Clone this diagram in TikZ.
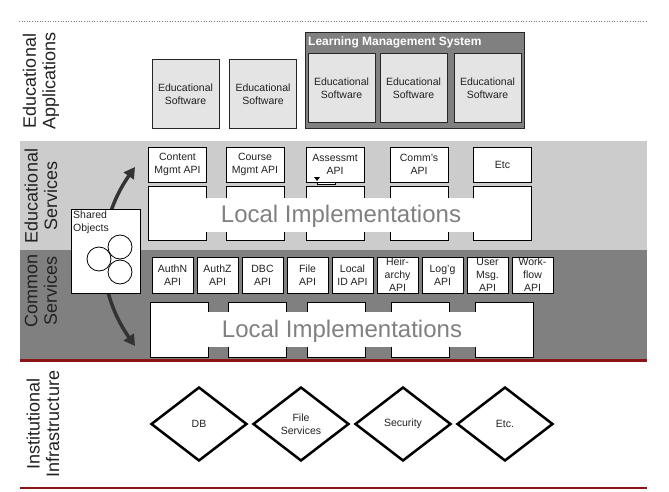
\documentclass[tikz,border=0pt]{standalone}
\usepackage{fontspec}
\setmainfont{Liberation Sans}
\usetikzlibrary{shapes.geometric,arrows.meta}
\definecolor{lightband}{HTML}{CCCCCC}
\definecolor{darkband}{HTML}{808080}
\definecolor{rule}{HTML}{8B1414}
\definecolor{boxgray}{HTML}{E4E4E4}
\definecolor{ink}{HTML}{222222}
\begin{document}
\begin{tikzpicture}[x=1pt,y=-1pt,
  lbl/.style={rotate=90,align=center,font=\fontsize{18}{19.5}\selectfont,text=ink},
  soft/.style={rectangle,draw=black!85,line width=1pt,fill=boxgray,align=center,minimum width=67pt,minimum height=69pt,inner sep=0pt,font=\fontsize{10.5}{13}\selectfont,text=ink},
  api/.style={rectangle,draw,line width=0.8pt,fill=white,align=center,inner sep=0pt,font=\fontsize{10.5}{13}\selectfont,text=ink},
  eapi/.style={api,minimum width=58pt,minimum height=35pt},
  capi/.style={api,minimum width=41pt,minimum height=36pt},
  impl/.style={rectangle,draw,line width=0.8pt,fill=white,minimum width=58pt,inner sep=0pt},
  impltext/.style={anchor=base,text=darkband,font=\fontsize{24}{24}\selectfont},
  store/.style={diamond,draw,line width=2.5pt,minimum width=96pt,minimum height=74pt,inner sep=0pt,align=center,font=\fontsize{10.5}{13}\selectfont,text=ink}]
  \useasboundingbox (0,0) rectangle (669,492);
  \fill[lightband] (20,141) rectangle (647,250);
  \fill[darkband] (20,250) rectangle (647,359);
  \draw[gray,dotted,line width=0.6pt] (19,21)--(647,21);
  \draw[rule,line width=2.7pt] (20,360.3)--(647,360.3);
  \draw[rule,line width=2.7pt] (20,488)--(647,488);

  \node[lbl] (apps) at (41,81) {Educational\\Applications};
  \node[lbl] (eserv) at (41,196) {Educational\\Services};
  \node[lbl] (cserv) at (41,291) {Common\\Services};
  \node[lbl] (infra) at (43,424) {Institutional\\Infrastructure};

  \node[soft] (sw1) at (185.5,94.5) {Educational\\Software};
  \node[soft] (sw2) at (263,94.5) {Educational\\Software};
  \node[rectangle,draw=black!85,line width=1pt,fill=darkband,minimum width=219pt,minimum height=96pt] (lms) at (414.5,81) {};
  \node[anchor=west,inner sep=0pt,text=white,font=\bfseries\fontsize{12}{12}\selectfont] (lmstitle) at (308,42) {Learning Management System};
  \node[soft] (sw3) at (341.5,88.5) {Educational\\Software};
  \node[soft] (sw4) at (413.5,88.5) {Educational\\Software};
  \node[soft] (sw5) at (487.5,88.5) {Educational\\Software};

  \node[eapi] (content) at (177.5,164.5) {Content\\Mgmt API};
  \node[eapi] (course) at (255,164.5) {Course\\Mgmt API};
  \node[eapi] (assess) at (335,164.5) {Assessmt\\API};
  \node[eapi] (comms) at (419,164.5) {Comm's\\API};
  \node[eapi] (eetc) at (502.5,164.5) {Etc};
  \node[impl,minimum height=54pt] (eimpl1) at (177.5,213) {};
  \node[impl,minimum height=54pt] (eimpl2) at (255,213) {};
  \node[impl,minimum height=54pt] (eimpl3) at (335,213) {};
  \node[impl,minimum height=54pt] (eimpl4) at (419,213) {};
  \node[impl,minimum height=54pt] (eimpl5) at (502.5,213) {};
  \fill[white] (149,198) rectangle (531,232);
  \node[impltext] (etext) at (341,222) {Local Implementations};
  \fill[black] (314,177)--(320,177)--(317,181)--cycle;
  \draw[line width=0.5pt,fill=white] (317,182) rectangle (335,184.5);

  \node[capi] (authn) at (172.5,275) {AuthN\\API};
  \node[capi] (authz) at (217.5,275) {AuthZ\\API};
  \node[capi] (dbc) at (262.5,275) {DBC\\API};
  \node[capi] (fileapi) at (307.5,275) {File\\API};
  \node[capi] (localid) at (352.5,275) {Local\\ID API};
  \node[capi] (hier) at (397.5,275) {Heir-\\archy\\API};
  \node[capi] (logg) at (442.5,275) {Log'g\\API};
  \node[capi] (usermsg) at (487.5,275) {User\\Msg.\\API};
  \node[capi] (workflow) at (532.5,275) {Work-\\flow\\API};
  \node[impl,minimum height=55pt] (cimpl1) at (179,329.5) {};
  \node[impl,minimum height=55pt] (cimpl2) at (257,329.5) {};
  \node[impl,minimum height=55pt] (cimpl3) at (336.5,329.5) {};
  \node[impl,minimum height=55pt] (cimpl4) at (420.5,329.5) {};
  \node[impl,minimum height=55pt] (cimpl5) at (504.5,329.5) {};
  \fill[white] (151,312) rectangle (533,347);
  \node[impltext] (ctext) at (342,337) {Local Implementations};

  \coordinate (uptip) at (135,167);
  \coordinate (lowtip) at (135,346);
  \draw[line width=3.5pt,black!80,{Triangle[length=11pt,width=12pt]}-{Triangle[length=11pt,width=12pt]}] (uptip) to[bend right=35] (lowtip);
  \node[rectangle,draw,line width=0.8pt,fill=white,minimum width=69pt,minimum height=84pt] (shared) at (105.5,251) {};
  \node[anchor=north west,align=left,inner sep=1pt,font=\fontsize{10.5}{13}\selectfont,text=ink] (sharedtext) at (72,210) {Shared\\Objects};
  \node[circle,draw,fill=white,line width=0.8pt,minimum size=24pt,inner sep=0pt] (obj1) at (99,259) {};
  \node[circle,draw,fill=white,line width=0.8pt,minimum size=24pt,inner sep=0pt] (obj2) at (120,247) {};
  \node[circle,draw,fill=white,line width=0.8pt,minimum size=24pt,inner sep=0pt] (obj3) at (120,272) {};

  \node[store] (db) at (199,424) {DB};
  \node[store] (files) at (301,424) {File\\Services};
  \node[store] (security) at (403,424) {Security};
  \node[store] (ietc) at (505,424) {Etc.};
\end{tikzpicture}
\end{document}
